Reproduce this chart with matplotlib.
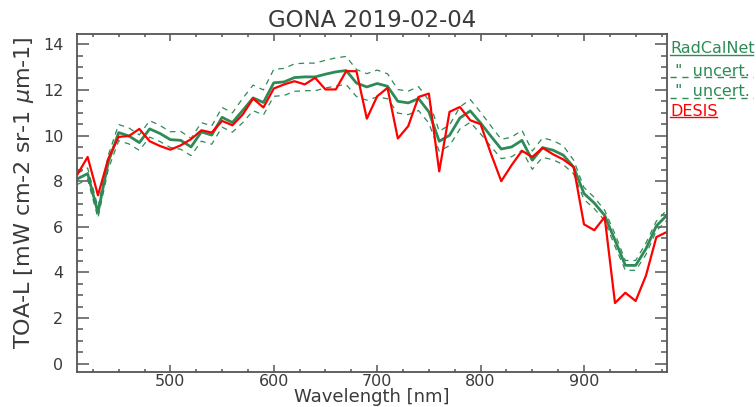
import numpy as np
import matplotlib
matplotlib.use("Agg")
import matplotlib.pyplot as plt
from matplotlib.ticker import MultipleLocator
from matplotlib.lines import Line2D

# ---------------- data ----------------
wavelength = [410, 420, 430, 440, 450, 460, 470, 480, 490, 500,
              510, 520, 530, 540, 550, 560, 570, 580, 590, 600,
              610, 620, 630, 640, 650, 660, 670, 680, 690, 700,
              710, 720, 730, 740, 750, 760, 770, 780, 790, 800,
              810, 820, 830, 840, 850, 860, 870, 880, 890, 900,
              910, 920, 930, 940, 950, 960, 970, 980]

radcalnet = [8.10, 8.33, 6.62, 8.84, 10.13, 9.98, 9.69, 10.29, 10.09, 9.82,
             9.79, 9.50, 10.16, 10.02, 10.80, 10.57, 11.10, 11.65, 11.45, 12.31,
             12.35, 12.54, 12.57, 12.57, 12.69, 12.79, 12.85, 12.30, 12.13, 12.28,
             12.16, 11.50, 11.43, 11.62, 11.04, 9.75, 10.01, 10.77, 11.08, 10.55,
             9.97, 9.41, 9.50, 9.79, 8.92, 9.47, 9.36, 9.14, 8.62, 7.46,
             7.04, 6.50, 5.41, 4.31, 4.31, 5.04, 6.04, 6.50]

uncert_pct = [3.0, 3.0, 3.5, 3.5, 3.5, 3.5, 3.5, 3.5, 3.5, 3.5,
              4.0, 4.0, 4.0, 4.0, 4.0, 4.0, 4.8, 4.8, 4.8, 4.8,
              4.8, 4.8, 4.8, 4.8, 4.8, 4.8, 4.8, 4.8, 4.8, 4.8,
              4.5, 4.5, 4.5, 4.5, 4.5, 4.5, 4.5, 4.5, 4.5, 4.5,
              4.5, 4.5, 4.5, 4.5, 4.5, 4.5, 4.5, 4.5, 3.5, 3.5,
              3.5, 3.5, 5.0, 5.0, 5.0, 5.0, 3.5, 3.5]

desis = [8.29, 9.06, 7.38, 8.99, 9.94, 9.98, 10.29, 9.75, 9.54, 9.38,
         9.57, 9.84, 10.23, 10.13, 10.64, 10.45, 10.92, 11.62, 11.23, 12.06,
         12.24, 12.38, 12.24, 12.53, 12.02, 12.02, 12.82, 12.82, 10.74, 11.72,
         12.09, 9.87, 10.41, 11.69, 11.84, 8.43, 11.04, 11.25, 10.67, 10.50,
         9.21, 8.00, 8.70, 9.33, 9.06, 9.46, 9.18, 8.95, 8.62, 6.11,
         5.85, 6.43, 2.66, 3.11, 2.75, 3.87, 5.55, 5.77]

title = "GONA 2019-02-04"
xlabel = "Wavelength [nm]"
ylabel = r"TOA-L [mW cm-2 sr-1 $\mu$m-1]"
legend_labels = ["RadCalNet", ' "  uncert.', ' "  uncert.', "DESIS"]

# ---------------- styling ----------------
GREEN = "#2E8B57"
RED = "#FF0000"
AXC = "#555555"
TXC = "#3a3a3a"

W, H = 756, 407
fig = plt.figure(figsize=(W / 100, H / 100), dpi=100)
L, R, T, B = 77.3, 666.7, 34.0, 371.7
ax = fig.add_axes([L / W, 1 - B / H, (R - L) / W, (B - T) / H])

wl = np.array(wavelength)
rc = np.array(radcalnet)
u = np.array(uncert_pct) / 100.0
upper = rc * (1 + u)
lower = rc * (1 - u)

ax.plot(wl, upper, color=GREEN, lw=0.9, dashes=(4.5, 4))
ax.plot(wl, lower, color=GREEN, lw=0.9, dashes=(4.5, 4))
ax.plot(wl, rc, color=GREEN, lw=2.0)
ax.plot(wl, desis, color=RED, lw=1.6)

ax.set_xlim(410, 980)
ax.set_ylim(-0.35, 14.45)
ax.xaxis.set_major_locator(MultipleLocator(100))
ax.xaxis.set_minor_locator(MultipleLocator(25))
ax.yaxis.set_major_locator(MultipleLocator(2))
ax.yaxis.set_minor_locator(MultipleLocator(0.5))

for s in ax.spines.values():
    s.set_color(AXC)
    s.set_linewidth(1.3)

ax.tick_params(axis="both", which="both", direction="in", top=True, right=True,
               color=AXC, width=1.1, labelcolor=TXC, labelsize=11.5)
ax.tick_params(axis="x", which="major", length=4.9, pad=2.0)
ax.tick_params(axis="x", which="minor", length=2.4)
ax.tick_params(axis="y", which="major", length=8.5, pad=10)
ax.tick_params(axis="y", which="minor", length=4.2)

fig.text(372 / W, 1 - 27 / H, title, ha="center", va="baseline",
         fontsize=16.5, color=TXC)
fig.text(372 / W, 1 - 402 / H, xlabel, ha="center", va="baseline",
         fontsize=13, color=TXC)
fig.text(24 / W, 1 - 193 / H, ylabel, ha="center", va="center",
         rotation=90, fontsize=16, color=TXC)

# legend (text with line sample underneath, IDL style)
leg_x0 = 670
rows = [(53, 54.5, GREEN, "-", 753), (75.5, 76.5, GREEN, "--", 753),
        (96, 98, GREEN, "--", 753), (115.5, 117.3, RED, "-", 717)]
for lab, (yb, yl, col, ls, xend) in zip(legend_labels, rows):
    fig.text(leg_x0 / W, 1 - yb / H, lab, ha="left", va="baseline",
             fontsize=11.5, color=col)
    if ls == "-":
        ln = Line2D([leg_x0 / W, xend / W], [1 - yl / H, 1 - yl / H],
                    transform=fig.transFigure, color=col, lw=1.0)
    else:
        ln = Line2D([leg_x0 / W, xend / W], [1 - yl / H, 1 - yl / H],
                    transform=fig.transFigure, color=col, lw=1.0,
                    dashes=(4.5, 4))
    fig.add_artist(ln)

fig.savefig("out.png", dpi=100)
